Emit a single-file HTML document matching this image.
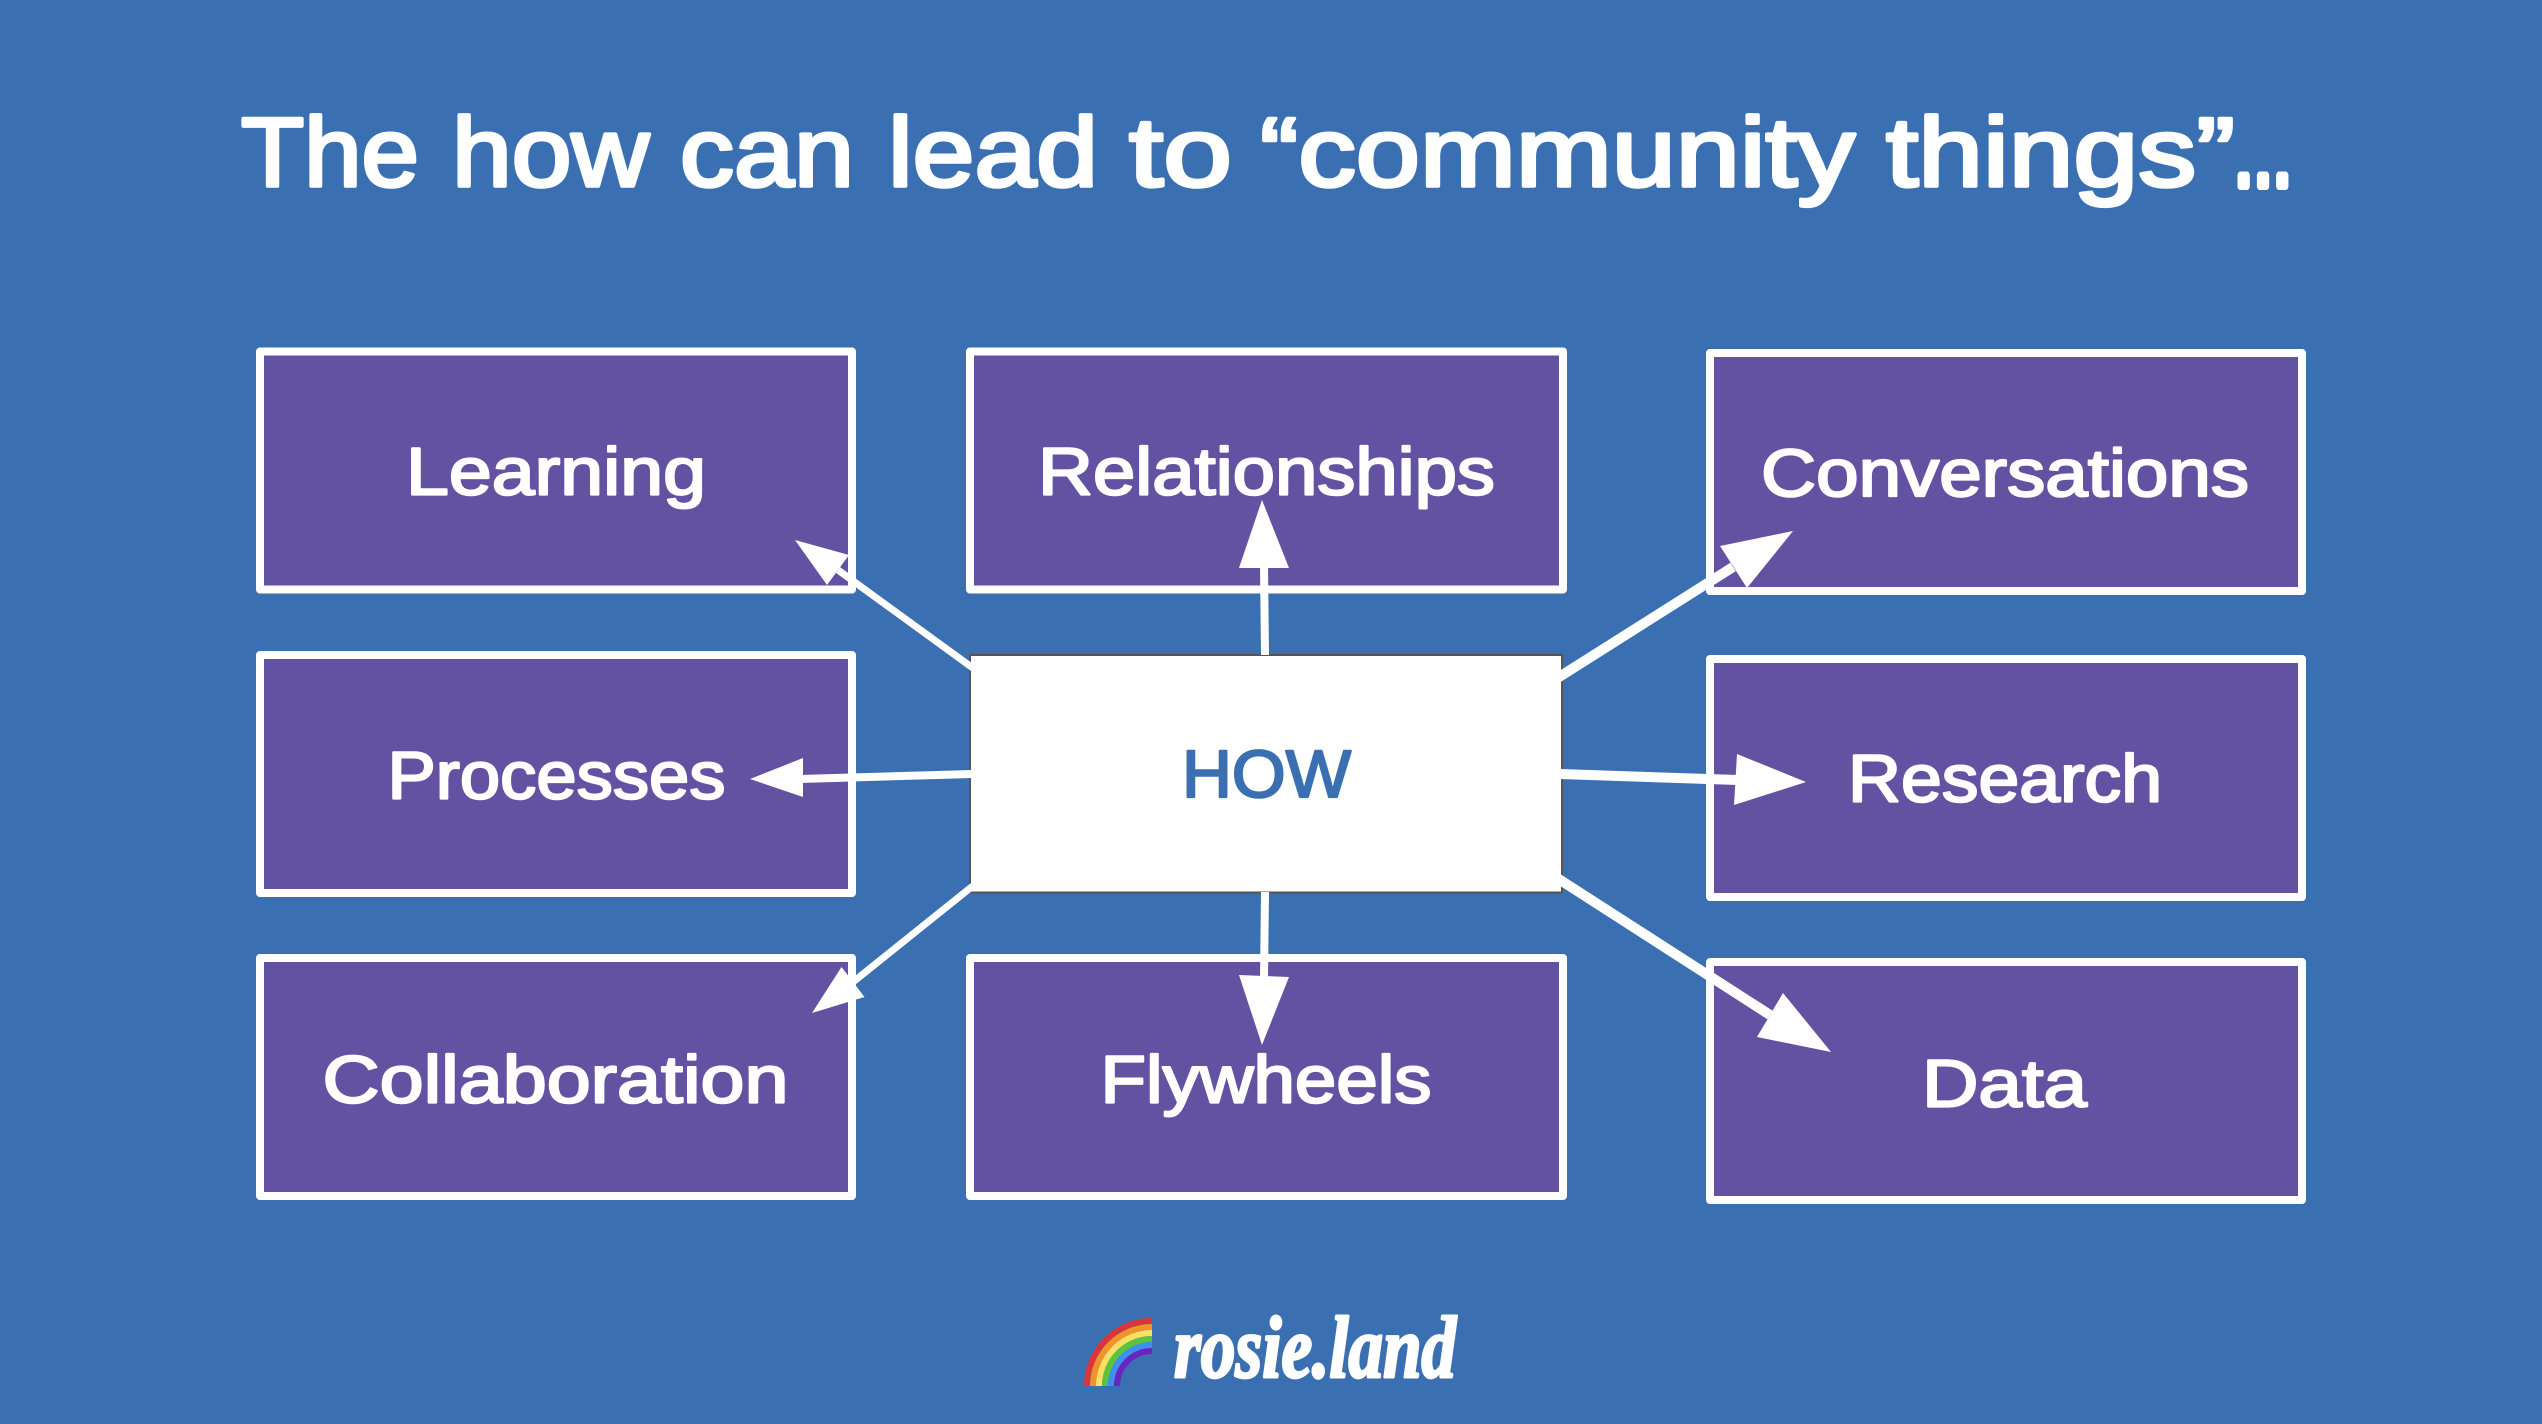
<!DOCTYPE html>
<html lang="en">
<head>
<meta charset="utf-8">
<title>The how can lead to community things</title>
<style>
html,body{margin:0;padding:0;background:#3a6fb1;width:2542px;height:1424px;overflow:hidden}
svg{display:block}
text{font-family:"Liberation Sans",sans-serif;text-rendering:geometricPrecision;stroke-linejoin:round;stroke-linecap:round}
.l{fill:#fff;stroke:#fff;stroke-width:2.2;font-size:67px}
.t{fill:#fff;stroke:#fff;stroke-width:3.6;font-size:98px}
.b{fill:#6351a1;stroke:#fff;stroke-width:8;stroke-linejoin:round}
</style>
</head>
<body>
<svg width="2542" height="1424" viewBox="0 0 2542 1424" xmlns="http://www.w3.org/2000/svg">
<rect width="2542" height="1424" fill="#3a6fb1"/>

<!-- title, word by word -->
<text class="t" x="241" y="186" textLength="178" lengthAdjust="spacingAndGlyphs">The</text>
<text class="t" x="452" y="186" textLength="197" lengthAdjust="spacingAndGlyphs">how</text>
<text class="t" x="680" y="186" textLength="174" lengthAdjust="spacingAndGlyphs">can</text>
<text class="t" x="888" y="186" textLength="210" lengthAdjust="spacingAndGlyphs">lead</text>
<text class="t" x="1129" y="186" textLength="103" lengthAdjust="spacingAndGlyphs">to</text>
<text class="t" x="1260" y="186" textLength="595" lengthAdjust="spacingAndGlyphs">“community</text>
<text class="t" x="1886" y="186" textLength="349" lengthAdjust="spacingAndGlyphs">things”</text>
<text class="t" x="2234" y="186" textLength="58" lengthAdjust="spacingAndGlyphs" style="stroke-width:8">...</text>

<!-- boxes -->
<rect class="b" x="260" y="351.500" width="592" height="238"/>
<rect class="b" x="970" y="351.500" width="593" height="238"/>
<rect class="b" x="1710" y="353" width="592" height="238"/>
<rect class="b" x="260" y="655" width="592" height="238"/>
<rect class="b" x="1710" y="659" width="592" height="238"/>
<rect class="b" x="260" y="958" width="592" height="238"/>
<rect class="b" x="970" y="958" width="593" height="238"/>
<rect class="b" x="1710" y="962" width="592" height="238"/>

<!-- labels -->
<text class="l" x="406" y="494.500" textLength="300" lengthAdjust="spacingAndGlyphs">Learning</text>
<text class="l" x="1038" y="494.500" textLength="457" lengthAdjust="spacingAndGlyphs">Relationships</text>
<text class="l" x="1761" y="496" textLength="488" lengthAdjust="spacingAndGlyphs">Conversations</text>
<text class="l" x="387.500" y="798.500" textLength="338" lengthAdjust="spacingAndGlyphs">Processes</text>
<text class="l" x="1848" y="801.500" textLength="314" lengthAdjust="spacingAndGlyphs">Research</text>
<text class="l" x="322.500" y="1102.500" textLength="466" lengthAdjust="spacingAndGlyphs">Collaboration</text>
<text class="l" x="1100.500" y="1102.500" textLength="331" lengthAdjust="spacingAndGlyphs">Flywheels</text>
<text class="l" x="1922" y="1106.500" textLength="165" lengthAdjust="spacingAndGlyphs">Data</text>

<!-- centre -->
<rect x="970" y="655" width="592" height="237.500" fill="#fff" stroke="#555" stroke-width="2" stroke-linejoin="round"/>
<text x="1182" y="797" textLength="169" lengthAdjust="spacingAndGlyphs" style="fill:#3a6fb1;stroke:#3a6fb1;stroke-width:2.2;font-size:67px">HOW</text>

<!-- connectors -->
<g stroke="#fff" fill="none">
<line x1="977" y1="671" x2="838" y2="570" stroke-width="7"/>
<line x1="1265" y1="655" x2="1264" y2="565" stroke-width="8"/>
<line x1="1556" y1="679" x2="1733" y2="567" stroke-width="10"/>
<line x1="972" y1="774" x2="800" y2="779" stroke-width="8"/>
<line x1="1560" y1="774" x2="1738" y2="780" stroke-width="10"/>
<line x1="979" y1="881" x2="853" y2="982" stroke-width="7"/>
<line x1="1265" y1="892" x2="1264" y2="978" stroke-width="8"/>
<line x1="1554" y1="876" x2="1770" y2="1015" stroke-width="10"/>
</g>
<g fill="#fff">
<polygon points="795,540 849,555 827,585"/>
<polygon points="1262,500 1239,568 1289,568"/>
<polygon points="1793,531 1720,546 1747,588"/>
<polygon points="750,779 803,758 803,797"/>
<polygon points="1806,782 1737,754 1734,805"/>
<polygon points="812,1013 841.500,967 864.500,997"/>
<polygon points="1262,1045 1239,975 1289,977"/>
<polygon points="1831,1052 1783,993 1757,1037"/>
</g>

<!-- rainbow -->
<g fill="none" stroke-width="6">
<path d="M1087 1386A65 65 0 0 1 1152 1321" stroke="#d8363a"/>
<path d="M1093 1386A59 59 0 0 1 1152 1327" stroke="#f0932b"/>
<path d="M1099 1386A53 53 0 0 1 1152 1333" stroke="#fbe066"/>
<path d="M1105 1386A47 47 0 0 1 1152 1339" stroke="#5cc43c"/>
<path d="M1111 1386A41 41 0 0 1 1152 1345" stroke="#3f8ef0"/>
<path d="M1117 1386A35 35 0 0 1 1152 1351" stroke="#6a25c0"/>
</g>

<!-- brand -->
<text x="1174" y="1377" textLength="282" lengthAdjust="spacingAndGlyphs" style="font-family:'Liberation Serif',serif;font-style:italic;font-weight:bold;font-size:88px;fill:#fff;stroke:#fff;stroke-width:3">rosie.land</text>
</svg>
</body>
</html>
